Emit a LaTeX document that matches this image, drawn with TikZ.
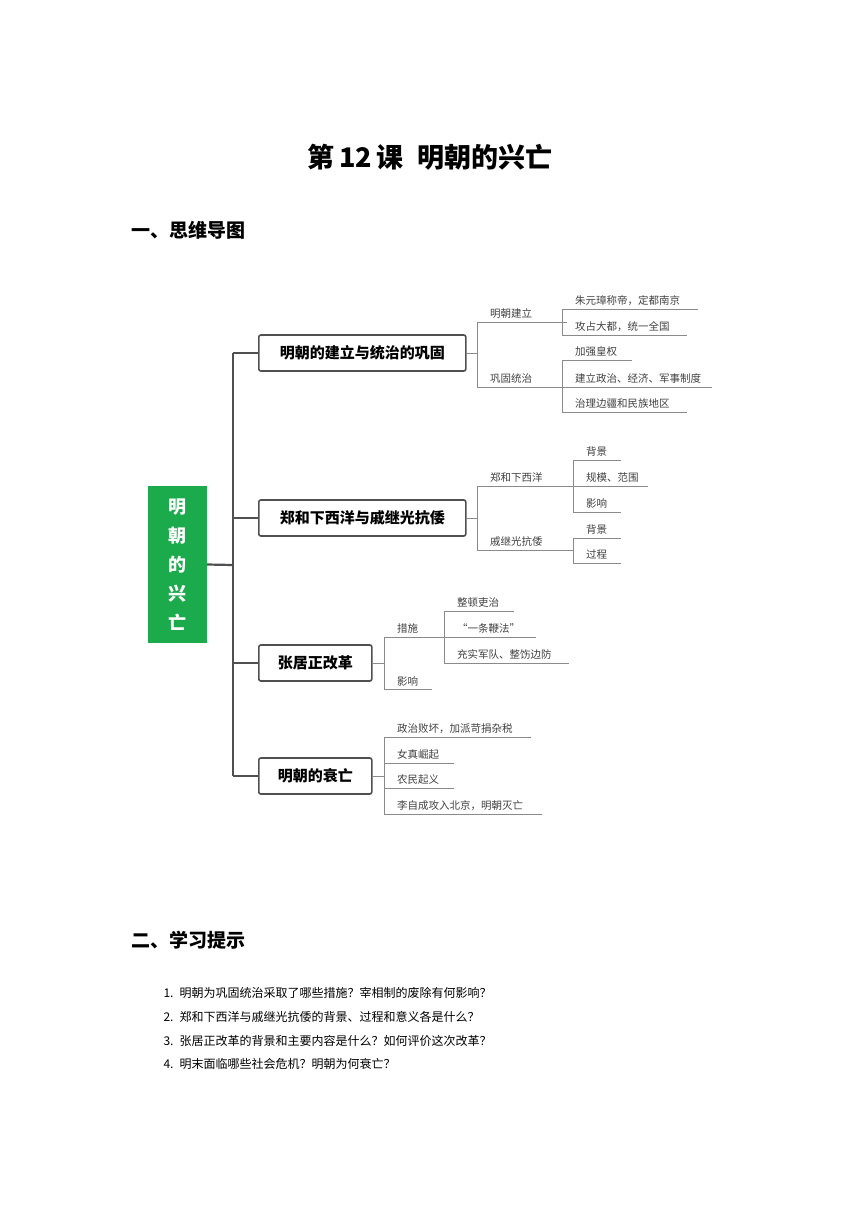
\documentclass[tikz,border=0pt]{standalone}
\usepackage{fontspec}
\setmainfont{Noto Sans CJK SC}
\newfontfamily\songfont{Noto Sans CJK SC}
\definecolor{mapgreen}{HTML}{1BAA4C}
\definecolor{linegray}{HTML}{8A8A8A}
\definecolor{boxgray}{HTML}{505050}
\begin{document}
\begin{tikzpicture}[x=1pt, y=-1pt,
    branch/.style={draw=boxgray, line width=1.6pt, rounded corners=2pt, anchor=west, minimum height=36pt, font=\bfseries\fontsize{15}{15}\selectfont, inner xsep=0pt},
    leaf/.style={anchor=south west, inner xsep=13pt, inner ysep=3pt, align=left, font=\fontsize{10.5}{11}\selectfont, text=black!75, text width=#1-26pt},
    thin/.style={draw=linegray, line width=0.8pt},
    trunk/.style={draw=boxgray, line width=2.2pt}]
\useasboundingbox (0,0) rectangle (860,1216);
% title and headings
\node[font=\bfseries\fontsize{27}{27}\selectfont] (title) at (430,157) {第\,12\,课\enspace 明朝的兴亡};
\node[anchor=west, font=\bfseries\fontsize{19}{19}\selectfont] (head1) at (128,230) {一、思维导图};
\node[anchor=west, font=\bfseries\fontsize{19}{19}\selectfont] (head2) at (128,940) {二、学习提示};
% centre
\node[fill=mapgreen, minimum width=59pt, minimum height=157pt, text=white, align=center,
      font=\bfseries\fontsize{18}{29}\selectfont] (root) at (177.5,564.5) {明\\朝\\的\\兴\\亡};
\coordinate (rj) at (233,565);
\coordinate (t1) at (233,353);
\coordinate (t4) at (233,776);
\draw[trunk] (root.east) -- (rj);
\draw[trunk] (t1) -- (t4);
% branches
\node[branch, minimum width=207pt] (b1) at (258,353) {明朝的建立与统治的巩固};
\node[branch, minimum width=207pt] (b2) at (258,518) {郑和下西洋与戚继光抗倭};
\node[branch, minimum width=113pt] (b3) at (258,663) {张居正改革};
\node[branch, minimum width=113pt] (b4) at (258,776) {明朝的衰亡};
\foreach \b in {b1,b2,b3,b4}
  \draw[trunk] (\b.west) -- (233,0 |- \b.west);
% branch 1
\node[leaf=90pt] (m11) at (477,322) {明朝建立};
\node[leaf=90pt] (m12) at (477,387) {巩固统治};
\node[leaf=136pt] (l111) at (562,309) {朱元璋称帝，定都南京};
\node[leaf=125pt] (l112) at (562,335) {攻占大都，统一全国};
\node[leaf=70pt] (l121) at (562,360) {加强皇权};
\node[leaf=150pt] (l122) at (562,387) {建立政治、经济、军事制度};
\node[leaf=125pt] (l123) at (562,412) {治理边疆和民族地区};
% branch 2
\node[leaf=96pt] (m21) at (477,486) {郑和下西洋};
\node[leaf=96pt] (m22) at (477,550) {戚继光抗倭};
\node[leaf=48pt] (l211) at (573,460) {背景};
\node[leaf=75pt] (l212) at (573,486) {规模、范围};
\node[leaf=48pt] (l213) at (573,512) {影响};
\node[leaf=48pt] (l221) at (573,538) {背景};
\node[leaf=48pt] (l222) at (573,563) {过程};
% branch 3
\node[leaf=60pt] (m31) at (384,637) {措施};
\node[leaf=48pt] (m32) at (384,689) {影响};
\node[leaf=70pt] (l311) at (444,611) {整顿吏治};
\node[leaf=92pt] (l312) at (444,637) {“一条鞭法”};
\node[leaf=125pt] (l313) at (444,663) {充实军队、整饬边防};
% branch 4
\node[leaf=147pt] (l41) at (384,737) {政治败坏，加派苛捐杂税};
\node[leaf=70pt] (l42) at (384,763) {女真崛起};
\node[leaf=70pt] (l43) at (384,788) {农民起义};
\node[leaf=158pt] (l44) at (384,814) {李自成攻入北京，明朝灭亡};
% underlines
\foreach \n in {m11,m12,l111,l112,l121,l122,l123,m21,m22,l211,l212,l213,l221,l222,
                m31,m32,l311,l312,l313,l41,l42,l43,l44}
  \draw[thin] (\n.south west) -- (\n.south east);
% connectors
\draw[thin] (b1.east) -- (m11.south west |- b1.east);
\draw[thin] (m11.south west) -- (m12.south west);
\draw[thin] (l111.south west) -- (l112.south west);
\draw[thin] (l121.south west) -- (l123.south west);
\draw[thin] (b2.east) -- (m21.south west |- b2.east);
\draw[thin] (m21.south west) -- (m22.south west);
\draw[thin] (l211.south west) -- (l213.south west);
\draw[thin] (l221.south west) -- (l222.south west);
\draw[thin] (b3.east) -- (m31.south west |- b3.east);
\draw[thin] (m31.south west) -- (m32.south west);
\draw[thin] (l311.south west) -- (l313.south west);
\draw[thin] (b4.east) -- (l41.south west |- b4.east);
\draw[thin] (l41.south west) -- (l44.south west);
% study hints
\foreach \i/\t [count=\k] in {993/明朝为巩固统治采取了哪些措施？宰相制的废除有何影响？,
  1017/郑和下西洋与戚继光抗倭的背景、过程和意义各是什么？,
  1041/张居正改革的背景和主要内容是什么？如何评价这次改革？,
  1064/明末面临哪些社会危机？明朝为何衰亡？}
  \node[anchor=west, font=\songfont\fontsize{12}{12}\selectfont] (hint\k) at (160,\i) {\k.\enspace\t};
\end{tikzpicture}
\end{document}
